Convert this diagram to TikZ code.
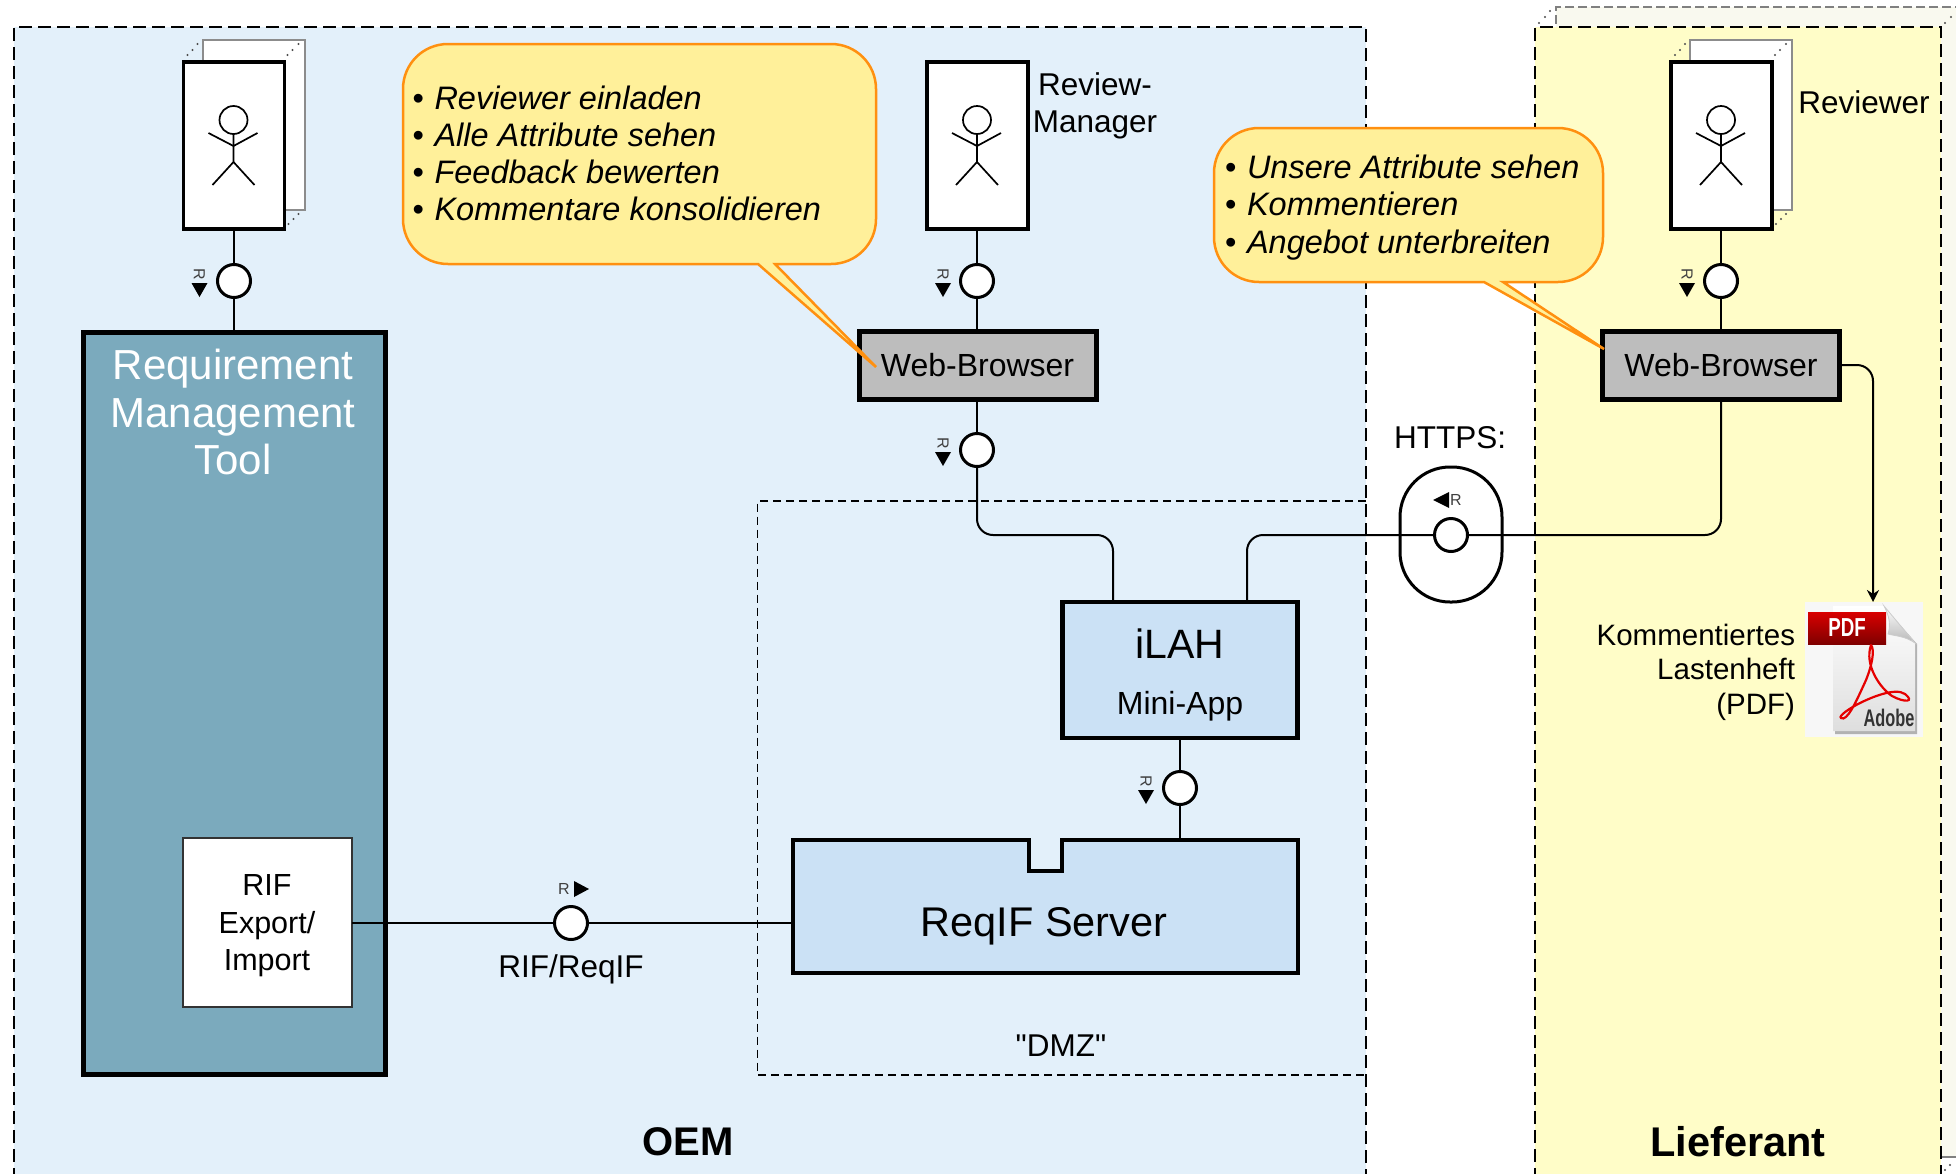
\documentclass[tikz,border=0pt]{standalone}
\usepackage{fontspec}
\setmainfont[Ligatures=TeXOff]{Liberation Sans}
\usetikzlibrary{arrows.meta}
\definecolor{oemfill}{HTML}{E3F0FA}
\definecolor{liefill}{HTML}{FFFDC8}
\definecolor{backpage}{HTML}{F9F9EF}
\definecolor{toolfill}{HTML}{7BAABD}
\definecolor{boxblue}{HTML}{CBE1F5}
\definecolor{browsergray}{HTML}{BDBDBD}
\definecolor{callfill}{HTML}{FFF09A}
\definecolor{callline}{HTML}{FF9010}
\newcommand{\fsz}[2]{\fontsize{#1}{#2}\selectfont}
\newcommand{\bl}{\makebox[22pt][l]{\textup{•}}}
\tikzset{
  x=1pt,y=-1pt,
  every node/.style={outer sep=0pt,inner sep=0pt},
  region/.style={line width=1.6pt,dash pattern=on 13pt off 6pt},
  dmzline/.style={line width=1.5pt,dash pattern=on 8pt off 5pt},
  actorbox/.style={draw=black,line width=3.5pt,fill=white,minimum width=101pt,minimum height=167pt},
  backbox/.style={draw=black!45,line width=2pt,fill=white},
  stick/.style={line width=1.7pt},
  iface/.style={circle,draw=black,line width=3pt,fill=white,minimum size=33pt},
  browser/.style={draw=black,line width=5pt,fill=browsergray,minimum width=237pt,minimum height=68pt,font=\fsz{32}{38}},
  conn/.style={line width=2pt,rounded corners=16pt},
  callout/.style={draw=callline,line width=2.5pt,fill=callfill},
  calltext/.style={font=\fsz{32.5}{37}\itshape,align=left,anchor=west},
  rsmall/.style={font=\fsz{16}{16},text=black!75},
  lab/.style={font=\fsz{31.5}{37},align=center}
}
\newcommand{\actorback}[1]{%
  \draw[backbox] ({#1+20},40) rectangle ({#1+122},210);
  \foreach \dx/\dy in {5/55,10/50,15/44,105/55,110/50,116/44,106/224,111/219,116/214}
    \fill[black!70] ({#1+\dx},\dy) circle (1.2pt);
}
\newcommand{\actorfig}[2]{%
  \node[actorbox] (#1) at ({#2+51.5},145.5) {};
  \draw[stick] ({#2+51},120) circle (14pt);
  \draw[stick] ({#2+51},134) -- ({#2+51},162) -- ({#2+30},185);
  \draw[stick] ({#2+51},162) -- ({#2+72},185);
  \draw[stick] ({#2+26},133) -- ({#2+51},146) -- ({#2+75},133);
}
% R marker beside an interface: triangle pointing down
\newcommand{\rdown}[3]{%
  \node[rsmall,rotate=-90] (#1) at (#2,{#3-7}) {R};
  \fill (#2-8,{#3+2}) -- (#2+8,{#3+2}) -- (#2,{#3+16}) -- cycle;
}
\begin{document}
\begin{tikzpicture}
\useasboundingbox (0,0) rectangle (1956,1173);
\clip (0,0) rectangle (1956,1173);
\fill[white] (0,0) rectangle (1956,1173);
% supplier back page
\fill[backpage] (1556,7) rectangle (1990,1157);
\draw[line width=1.2pt,draw=black!50,dash pattern=on 9pt off 4pt] (1990,7) -- (1556,7) -- (1556,27);
\draw[line width=1.2pt,draw=black!50] (1941,1157) -- (1956,1157);
\foreach \px/\py in {1539/23,1545/17,1550/11,1945/23,1951/17,1945/1170,1950/1165}
  \fill[black!70] (\px,\py) circle (1.2pt);
% regions
\fill[oemfill] (14,27) rectangle (1366,1200);
\draw[region] (14,1200) -- (14,27) -- (1366,27) -- (1366,1200);
\fill[liefill] (1535,27) rectangle (1941,1200);
\draw[region] (1535,1200) -- (1535,27) -- (1941,27) -- (1941,1200);
% DMZ
\draw[dmzline] (1366,501) -- (757.5,501) -- (757.5,1075) -- (1366,1075);
\node[lab] (dmz) at (1061,1046) {"DMZ"};
% region titles
\node[font=\fsz{40}{44}\bfseries] (oem) at (688,1142) {OEM};
\node[font=\fsz{41.5}{44}\bfseries] (lief) at (1738,1142) {Lieferant};
% actors
\actorback{182.5}
\actorback{1670}
\actorfig{a1}{182.5}
\actorfig{a2}{926}
\actorfig{a3}{1670}
\node[lab,font=\fsz{31.5}{37.5}] (revman) at (1095,106) {Review-\\Manager};
\node[font=\fsz{31.5}{36}] (reviewer) at (1864,102) {Reviewer};
% tool
\node[draw=black,line width=5pt,fill=toolfill,minimum width=302pt,minimum height=742pt] (rm) at (234.5,703) {};
\node[font=\fsz{42}{47.5},text=white,align=center] (rmtext) at (233,412) {Requirement\\Management\\Tool};
\node[draw=black!80,line width=1.2pt,fill=white,minimum width=169pt,minimum height=169pt] (rif) at (267.5,922.5) {};
\node[font=\fsz{30.5}{37.5},align=center] (rift) at (267,926) {RIF\\Export/\\Import};
% browsers
\node[browser] (wb1) at (977.5,365) {Web-Browser};
\node[browser] (wb2) at (1721,365) {Web-Browser};
% iLAH
\node[draw=black,line width=4.5pt,fill=boxblue,minimum width=235pt,minimum height=136pt] (ilah) at (1180,670) {};
\node[font=\fsz{41}{44}] (ilaht) at (1180,644) {iLAH};
\node[font=\fsz{32}{36}] (ilahm) at (1180,706) {Mini-App};
\coordinate (ilahL) at (1113,601);
\coordinate (ilahR) at (1247,601);
% ReqIF server with notch
\draw[line width=4.5pt,fill=boxblue,miter limit=2] (793,840) -- (1029,840) -- (1029,871) -- (1062,871) -- (1062,840) -- (1298,840) -- (1298,973) -- (793,973) -- cycle;
\node[minimum width=505pt,minimum height=133pt] (srv) at (1045.5,906.5) {};
\node[font=\fsz{41.5}{44}] (srvt) at (1044,926) {ReqIF Server};
% interfaces
\node[iface] (c1) at (234,281) {};
\node[iface] (c2) at (977,281) {};
\node[iface] (c3) at (977,450) {};
\node[iface] (c4) at (1721,281) {};
\node[iface] (c5) at (1180,788) {};
\node[iface] (c6) at (571,923) {};
\node[draw=black,line width=3pt,minimum width=102pt,minimum height=135pt,rounded corners=50pt] (https) at (1451,534.5) {};
\node[iface] (c7) at (1451,535) {};
% connectors
\draw[conn] (c1.north |- a1.south) -- (c1.north);
\draw[conn] (c1.south) -- (c1.south |- rm.north);
\draw[conn] (c2.north |- a2.south) -- (c2.north);
\draw[conn] (c2.south) -- (c2.south |- wb1.north);
\draw[conn] (c2.south |- wb1.south) -- (c3.north);
\draw[conn] (c4.north |- a3.south) -- (c4.north);
\draw[conn] (c4.south) -- (c4.south |- wb2.north);
\draw[conn] (c3.south) |- (ilahL |- c7.center) -- (ilahL);
\draw[conn] (ilahR) |- (c7.west);
\draw[conn] (c7.east) -| (c4.south |- wb2.south);
\draw[conn] (c5.north) -- (c5.north |- ilah.south);
\draw[conn] (c5.south) -- (c5.south |- srv.north);
\draw[conn] (rif.east |- c6.center) -- (c6.west);
\draw[conn] (c6.east) -- (c6.east -| srv.west);
% PDF icon
\node[fill=white!97!black,minimum width=118pt,minimum height=135pt] (pdf) at (1864,669.5) {};
\coordinate (pdfin) at (1873,602);
\draw[conn,-{Stealth[length=12pt,width=12pt]}] (wb2.east) -| (pdfin);
\fill[black!30] (1835,608) -- (1885,608) -- (1917,644) -- (1917,734) -- (1835,734) -- cycle;
\shade[top color=white,bottom color=black!13] (1833,606) -- (1884,606) -- (1915,643) -- (1915,731) -- (1833,731) -- cycle;
\shade[top color=white,bottom color=black!28,draw=black!20,line width=.8pt] (1884,606) -- (1915,643) .. controls (1905,636) and (1895,636) .. (1888,634) .. controls (1891,625) and (1889,615) .. (1884,606) -- cycle;
\shade[top color=red!85!black,bottom color=red!50!black] (1808,612) rectangle (1886,644);
\node[font=\fsz{26}{26}\bfseries,text=white] (pdft) at (1847,628) {\scalebox{0.72}[1]{PDF}};
\draw[red!90!black,line width=2.2pt,line cap=round] (1871,645) .. controls (1864,665) and (1880,688) .. (1892,696) .. controls (1905,703) and (1915,702) .. (1905,694) .. controls (1895,687) and (1870,698) .. (1860,703) .. controls (1850,708) and (1838,716) .. (1841,718) .. controls (1847,722) and (1856,702) .. (1866,680) .. controls (1872,665) and (1875,650) .. (1871,645);
\node[font=\fsz{24}{24}\bfseries,text=black!80] (adobe) at (1889,718) {\scalebox{0.68}[1]{Adobe}};
\node[font=\fsz{29.5}{34.5},align=right,anchor=east] (pdflab) at (1795,672) {Kommentiertes\\Lastenheft\\(PDF)};
% labels
\node[lab] (httpslab) at (1450,438) {HTTPS:};
\node[lab] (riflab) at (571,969) {RIF/ReqIF};
% R markers
\rdown{r1}{199.5}{281}
\rdown{r2}{943}{281}
\rdown{r3}{943}{450}
\rdown{r4}{1687}{281}
\rdown{r5}{1146}{788}
\node[rsmall] (r6) at (564,889) {R};
\fill (574,881) -- (574,897) -- (589,889) -- cycle;
\node[rsmall] (r7) at (1456,500) {R};
\fill (1449,492) -- (1449,508) -- (1433,500) -- cycle;
% callouts
\draw[callout] (448,44) -- (831,44) .. controls (856,44) and (876,64) .. (876,89) -- (876,219) .. controls (876,244) and (856,264) .. (831,264) -- (775,264) -- (876,367) -- (758,264) -- (448,264) .. controls (423,264) and (403,244) .. (403,219) -- (403,89) .. controls (403,64) and (423,44) .. (448,44) -- cycle;
\node[calltext] (t1) at (412.5,153.5) {\bl Reviewer einladen\\\bl Alle Attribute sehen\\\bl Feedback bewerten\\\bl Kommentare konsolidieren};
\draw[callout] (1259,128) -- (1558,128) .. controls (1583,128) and (1603,148) .. (1603,173) -- (1603,237) .. controls (1603,262) and (1583,282) .. (1558,282) -- (1503,282) -- (1604,349) -- (1484,282) -- (1259,282) .. controls (1234,282) and (1214,262) .. (1214,237) -- (1214,173) .. controls (1214,148) and (1234,128) .. (1259,128) -- cycle;
\node[calltext,font=\fsz{32.5}{37.5}\itshape] (t2) at (1225,207.5) {\bl Unsere Attribute sehen\\\bl Kommentieren\\\bl Angebot unterbreiten};
\end{tikzpicture}
\end{document}
